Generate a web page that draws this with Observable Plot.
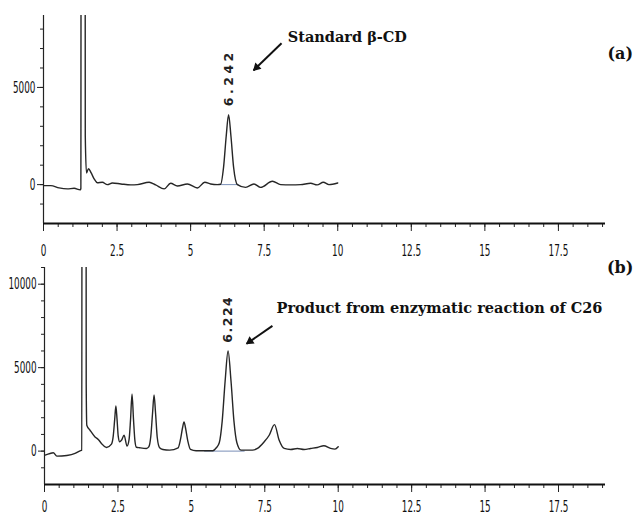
<!DOCTYPE html>
<html>
<head>
<meta charset="utf-8">
<script src="https://cdn.jsdelivr.net/npm/d3@7"></script>
<script src="https://cdn.jsdelivr.net/npm/@observablehq/plot@0.6"></script>
<style>
  html, body { margin: 0; padding: 0; background: #fff; }
  #chart svg { display: block; }
</style>
</head>
<body>
<div id="chart"></div>
<script>
// ---- Panel (a): standard beta-CD chromatogram (retention time, min / response)
const timeA = [0.02,0.25,0.53,0.81,1.04,1.25,1.27,1.285,1.405,1.42,1.46,1.53,1.62,1.72,1.83,2.0,2.17,2.34,2.63,2.97,3.19,3.59,3.81,4.1,4.32,4.55,4.89,5.23,5.48,5.68,5.91,6.02,6.12,6.21,6.29,6.37,6.46,6.59,6.87,7.15,7.38,7.78,8.06,8.4,8.74,9.08,9.3,9.51,9.7,10];
const respA = [-50,-50,-170,-220,-190,-270,-200,40000,40000,2500,600,820,600,300,100,120,0,85,35,-15,0,120,-15,-220,70,-70,35,-170,120,35,0,20,900,2500,3600,2500,900,0,-140,35,-140,170,0,-15,0,70,-15,120,0,85];

// ---- Panel (b): product of enzymatic reaction of C26
const timeB = [0.02,0.19,0.3,0.42,0.76,1.04,1.21,1.27,1.285,1.405,1.42,1.44,1.55,1.72,1.83,1.94,2.11,2.28,2.34,2.39,2.43,2.47,2.51,2.56,2.62,2.71,2.81,2.88,2.93,2.98,3.03,3.08,3.13,3.24,3.47,3.55,3.62,3.68,3.73,3.78,3.84,3.92,4.03,4.26,4.55,4.63,4.7,4.75,4.8,4.88,4.97,5.16,5.39,5.73,5.85,5.95,6.05,6.15,6.25,6.35,6.45,6.55,6.69,7.08,7.25,7.48,7.65,7.83,7.99,8.16,8.38,8.61,8.84,9.06,9.29,9.51,9.74,9.89,10];
const respB = [-240,-140,-100,-300,-260,-140,20,60,50000,50000,4000,1550,1250,850,700,460,220,420,900,1900,2700,1900,900,560,650,950,300,700,1900,3430,1900,600,230,200,160,250,900,2300,3370,2300,800,200,100,60,200,700,1400,1750,1400,600,100,20,20,20,200,500,1800,4200,6000,4200,1800,500,60,60,160,560,950,1590,650,160,100,160,100,160,220,320,160,120,260];

// integration baselines drawn by the instrument
const baseA = [{t: 6.02, v: 0}, {t: 6.62, v: 0}];
const baseB = [{t: 5.45, v: 0}, {t: 6.8, v: 0}];

// axis ticks
const xMajor = [0, 2.5, 5, 7.5, 10, 12.5, 15, 17.5];
const xMinor = d3.range(0, 19.01, 0.5);
const yMajorA = [0, 5000];
const yMinorA = d3.range(-1000, 8001, 1000);
const yMajorB = [0, 5000, 10000];
const yMinorB = d3.range(-1000, 11001, 1000);

// annotations
const peakA = [{t: 6.29, v: 5500, label: "6.242"}];
const peakB = [{t: 6.24, v: 7900, label: "6.224"}];
const noteA = [{t: 8.3, v: 7600, label: "Standard β-CD"}];
const noteB = [{t: 7.9, v: 8550, label: "Product from enzymatic reaction of C26"}];
const tagA = [{t: 19.6, v: 6750, label: "(a)"}];
const tagB = [{t: 19.6, v: 10950, label: "(b)"}];
const arrowA = [{t1: 8.09, v1: 7270, t2: 7.14, v2: 5880}];
const arrowB = [{t1: 7.76, v1: 7500, t2: 6.88, v2: 6430}];

const rowsA = timeA.map((t, i) => ({t, v: respA[i]}));
const rowsB = timeB.map((t, i) => ({t, v: respB[i]}));

const tickFont = "'DejaVu Sans', sans-serif";
const noteFont = "'DejaVu Serif', 'Liberation Serif', serif";

function panel({rows, base, yDomain, yMajor, yMinor, height, marginLeft, marginTop, marginBottom, peak, note, tag, arrow, head, tickPad}) {
  return Plot.plot({
    width: 635,
    height,
    marginLeft,
    marginRight: 30,
    marginTop,
    marginBottom,
    x: {domain: [0, 19.1]},
    y: {domain: yDomain},
    style: {fontFamily: tickFont, fontSize: "13px", color: "#111", background: "#fff", overflow: "visible"},
    marks: [
      Plot.axisX({ticks: xMinor, tickSize: 4, tickFormat: () => "", stroke: "#222"}),
      Plot.axisX({ticks: xMajor, tickSize: 8, tickPadding: tickPad, tickFormat: d => String(d), stroke: "#222", fill: "#111", fontSize: 13}),
      Plot.axisY({ticks: yMinor, tickSize: 3, tickFormat: () => "", stroke: "#222"}),
      Plot.axisY({ticks: yMajor, tickSize: 6, tickPadding: 2, tickFormat: d => String(d), stroke: "#222", fill: "#111", fontSize: 13}),
      Plot.ruleY([yDomain[0]], {stroke: "#111", strokeWidth: 2}),
      Plot.ruleX([0], {stroke: "#222", strokeWidth: 1.2}),
      Plot.line(base, {x: "t", y: "v", stroke: "#7a8fb8", strokeWidth: 1}),
      Plot.line(rows, {x: "t", y: "v", curve: "monotone-x", clip: true, stroke: "#262626", strokeWidth: 1.4}),
      Plot.text(peak, {x: "t", y: "v", text: "label", rotate: -90, fontFamily: "'DejaVu Sans', sans-serif", fontSize: 12.5, fontWeight: "bold", fill: "#222"}),
      Plot.text(note, {x: "t", y: "v", text: "label", textAnchor: "start", fontFamily: noteFont, fontWeight: "bold", fontSize: 14.5, fill: "#111"}),
      Plot.text(tag, {x: "t", y: "v", text: "label", fontFamily: noteFont, fontWeight: "bold", fontSize: 16, fill: "#111"}),
      Plot.link(arrow, {x1: "t1", y1: "v1", x2: "t2", y2: "v2", stroke: "#111", strokeWidth: 2}),
      Plot.dot(arrow, {x: "t2", y: "v2", symbol: "triangle2", r: 4.2, fill: "#111", stroke: "none", rotate: head.rotate, dx: head.dx, dy: head.dy})
    ]
  });
}

const svgA = panel({rows: rowsA, base: baseA, yDomain: [-2000, 8700], yMajor: yMajorA, yMinor: yMinorA,
  height: 250, marginLeft: 43, marginTop: 15, marginBottom: 27, peak: peakA, note: noteA, tag: tagA, arrow: arrowA,
  head: {rotate: 226, dx: 3, dy: -2.9}, tickPad: 14});
const svgB = panel({rows: rowsB, base: baseB, yDomain: [-2000, 11000], yMajor: yMajorB, yMinor: yMinorB,
  height: 264, marginLeft: 44, marginTop: 17, marginBottom: 30, peak: peakB, note: noteB, tag: tagB, arrow: arrowB,
  head: {rotate: 235, dx: 3.4, dy: -2.4}, tickPad: 9});

d3.select(svgA).selectAll("text").filter(function () { return this.textContent === "6.242"; }).attr("letter-spacing", "3.5px");
d3.select(svgB).selectAll("text").filter(function () { return this.textContent === "6.224"; }).attr("letter-spacing", "1.5px");

document.getElementById("chart").append(svgA, svgB);

// condensed, tall tick digits like the scanned instrument print-out (scaled about each label's own box)
function condense(svg, sx, sy) {
  d3.select(svg).selectAll("g[aria-label='x-axis tick label'] text, g[aria-label='y-axis tick label'] text").each(function () {
    if (!this.textContent) return;
    const bb = this.getBBox();
    const isY = this.parentNode.getAttribute("aria-label").startsWith("y");
    const cx = isY ? bb.x + bb.width : bb.x + bb.width / 2;
    const cy = bb.y + bb.height / 2;
    const t = this.getAttribute("transform") || "";
    this.setAttribute("transform", `${t} translate(${cx},${cy}) scale(${sx},${sy}) translate(${-cx},${-cy})`);
  });
}
condense(svgA, 0.68, 1.25);
condense(svgB, 0.68, 1.2);
</script>
</body>
</html>
